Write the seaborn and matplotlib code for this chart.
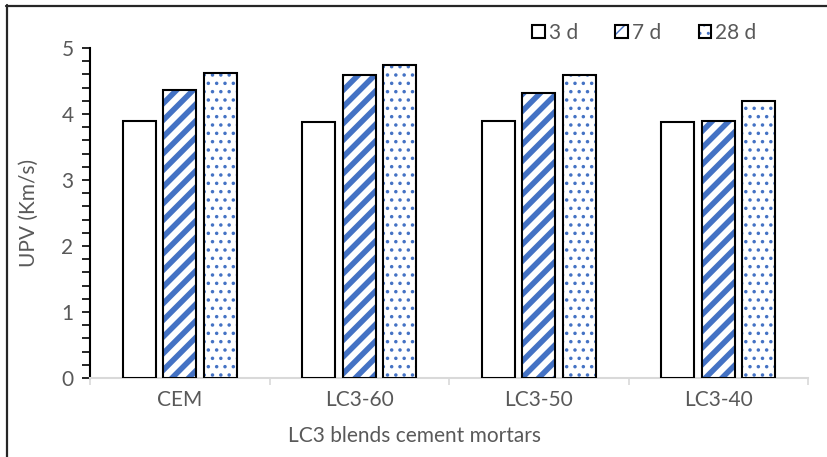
import matplotlib
matplotlib.use("Agg")
import matplotlib.pyplot as plt
from matplotlib.colors import to_rgba
from matplotlib.lines import Line2D
import seaborn as sns
import pandas as pd

# UPV of LC3 blend mortars at three curing ages
mixes = ["CEM", "LC3-60", "LC3-50", "LC3-40"]
ages = ["3 d", "7 d", "28 d"]
upv_3d = [3.89, 3.88, 3.89, 3.88]
upv_7d = [4.36, 4.59, 4.32, 3.89]
upv_28d = [4.62, 4.74, 4.59, 4.20]

BLUE = "#4472C4"
TEXT = "#595959"
FS = 15

sns.set_theme(style="white")
plt.rcParams["font.family"] = ["Lato", "DejaVu Sans"]

df = pd.DataFrame({
    "mix": mixes * 3,
    "age": [ages[0]] * 4 + [ages[1]] * 4 + [ages[2]] * 4,
    "upv": upv_3d + upv_7d + upv_28d,
})

fig = plt.figure(figsize=(8.27, 4.57), dpi=100)
ax = fig.add_axes([90 / 827, 1 - 378 / 457, 718 / 827, 330 / 457])

sns.barplot(data=df, x="mix", y="upv", hue="age", order=mixes, hue_order=ages,
            palette=["white"] * 3, width=0.68, gap=0.19, errorbar=None,
            saturation=1, ax=ax, legend=False, zorder=3)

styles = {"3 d": (None, 1.0), "7 d": ("//", 4.0), "28 d": ("..", 1.3)}
for cont, age in zip(ax.containers, ages):
    hatch, hlw = styles[age]
    cont.set_label(age)
    for p in cont.patches:
        p.set_facecolor("white")
        p.set_edgecolor("black")
        p.set_linewidth(1.5)
        if hatch:
            p.set_hatch(hatch)
            p._hatch_color = to_rgba(BLUE)
            if hasattr(p, "set_hatch_linewidth"):
                p.set_hatch_linewidth(hlw)
            else:
                p._hatch_linewidth = hlw

ax.set_ylim(0, 5)
ax.set_xlim(-0.5, 3.5)
ax.set_yticks([0, 1, 2, 3, 4, 5])
ax.set_yticks([i / 5 for i in range(26)], minor=True)
ax.set_xticks([-0.5, 0.5, 1.5, 2.5, 3.5], minor=True)

for s in ["top", "right"]:
    ax.spines[s].set_visible(False)
ax.spines["left"].set_color("black")
ax.spines["left"].set_linewidth(1.5)
ax.spines["bottom"].set_color("#D9D9D9")
ax.spines["bottom"].set_linewidth(1.5)

ax.tick_params(axis="y", which="both", direction="out", length=5.8, width=1.2,
               color="black", left=True, labelsize=FS, labelcolor=TEXT, pad=6)
ax.tick_params(axis="x", which="major", length=0, labelsize=FS,
               labelcolor=TEXT, pad=9)
ax.tick_params(axis="x", which="minor", direction="out", length=5, width=1.2,
               color="#D9D9D9", bottom=True)

ax.set_xlabel("LC3 blends cement mortars", fontsize=FS, color=TEXT)
ax.xaxis.set_label_coords((415 - 90) / 718, -0.145)
ax.set_ylabel("UPV (Km/s)", fontsize=FS, color=TEXT)
ax.yaxis.set_label_coords((39 - 90) / 718, 0.5)

handles = [c.patches[0] for c in ax.containers]
fig.legend(handles, ages, loc="center left",
           bbox_to_anchor=(532 / 827, 1 - 33 / 457), ncol=3, frameon=False,
           fontsize=FS, labelcolor=TEXT, handlelength=0.6, handleheight=0.6,
           handletextpad=0.2, columnspacing=1.8, borderpad=0, borderaxespad=0)

# outer frame
fig.add_artist(Line2D([6 / 827, 1.0], [1 - 5.5 / 457] * 2, transform=fig.transFigure,
                      color="#262626", linewidth=1.6))
fig.add_artist(Line2D([6.5 / 827] * 2, [0.0, 1 - 5 / 457], transform=fig.transFigure,
                      color="#262626", linewidth=1.6))

fig.savefig("out.png", dpi=100)
